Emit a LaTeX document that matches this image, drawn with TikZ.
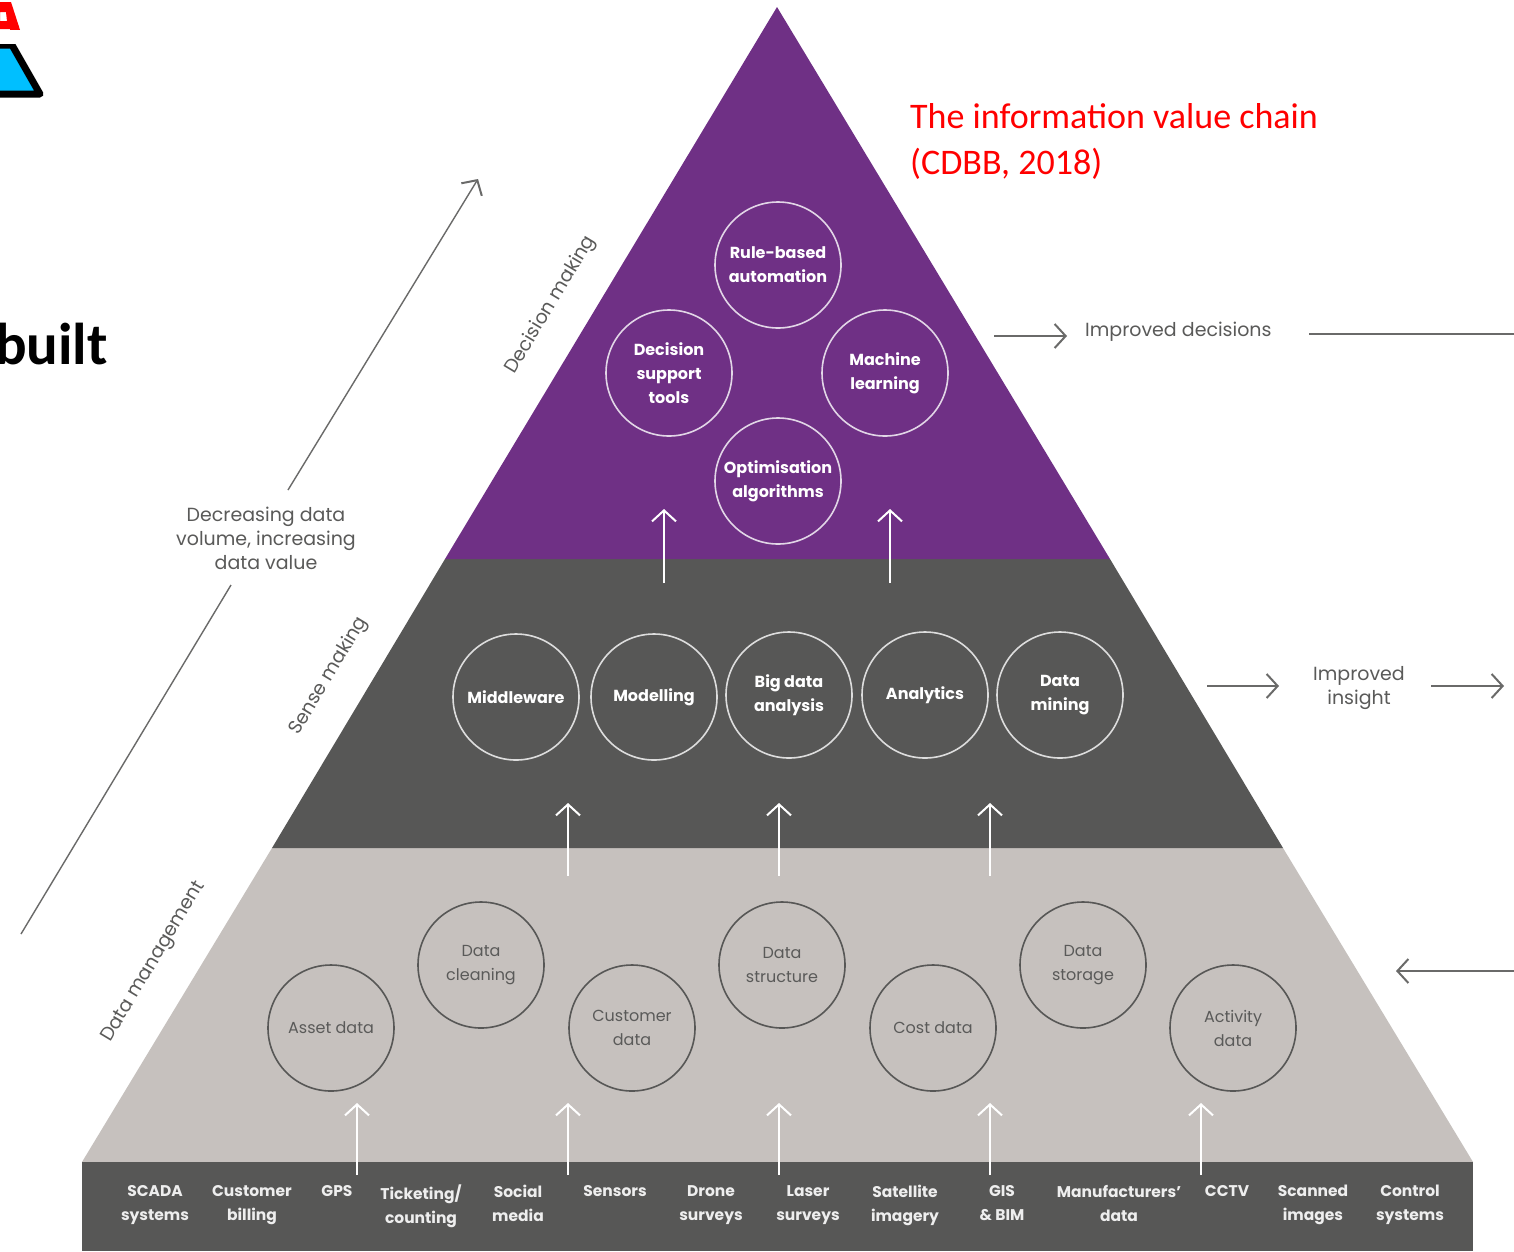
\documentclass[tikz,border=0pt]{standalone}
\usepackage{fontspec}
\setmainfont{Poppins}
\newfontfamily\calfont{Carlito}
\usetikzlibrary{arrows.meta}
\definecolor{purp}{HTML}{6F3085}
\definecolor{darkg}{HTML}{575756}
\definecolor{beige}{HTML}{C6C1BE}
\definecolor{linegray}{HTML}{6A6A69}
\definecolor{textgray}{HTML}{5A5A59}
\definecolor{cyanlogo}{HTML}{00BFFF}
\tikzset{
  x=1pt,y=-1pt,
  barb/.style={-{Straight Barb[length=11pt,width=24pt,line width=2pt]},line width=2pt},
  whitearrow/.style={barb,draw=white},
  grayarrow/.style={barb,draw=linegray},
  thinline/.style={draw=linegray,line width=1.6pt},
  bub/.style={circle,minimum size=126pt,inner sep=0pt,align=center,line width=1.6pt,font=\fontsize{16}{24}\selectfont},
  bubp/.style={bub,draw=white!80!purp,text=white,font=\fontsize{16}{24}\selectfont\bfseries},
  bubd/.style={bub,draw=white!80!darkg,text=white,font=\fontsize{16}{24}\selectfont\bfseries},
  bubb/.style={bub,draw=darkg,text=textgray},
  src/.style={align=center,anchor=north,inner sep=0pt,text=white!90!darkg,font=\fontsize{15.5}{24}\selectfont\bfseries},
  side/.style={text=textgray,align=center,inner sep=0pt,font=\fontsize{19}{24}\selectfont},
  tier/.style={text=textgray,inner sep=0pt,rotate=59,font=\fontsize{19}{24}\selectfont},
  note/.style={text=red,anchor=west,inner sep=0pt,font=\calfont\fontsize{36}{48}\selectfont}
}
\begin{document}
\begin{tikzpicture}
\useasboundingbox (0,0) rectangle (1514,1251);
\clip (0,0) rectangle (1514,1251);
\fill[white] (0,0) rectangle (1514,1251);
% logo fragment
\fill[red,even odd rule] (0,2) -- (11,2) -- (22,36) -- (12,36) -- (10,29) -- (0,29) -- cycle (0,12) -- (6,12) -- (7,21) -- (0,21) -- cycle;
\filldraw[fill=cyanlogo,draw=black,line width=7pt,line join=round] (-20,94) -- (-8,45) -- (12,45) -- (40,94) -- cycle;
\fill[white] (-30,30) rectangle (60,44);
\node[anchor=east,inner sep=0pt,font=\calfont\bfseries\fontsize{59}{60}\selectfont] (builttext) at (108,344) {built};
% pyramid
\fill[beige] (272,848) -- (1283,848) -- (1473,1162) -- (82,1162) -- cycle;
\fill[darkg] (445,559) -- (1110,559) -- (1283,848) -- (272,848) -- cycle;
\fill[purp] (777,7) -- (1110,559) -- (445,559) -- cycle;
\fill[darkg] (82,1162) rectangle (1473,1251);
% decision tier
\node[bubp] (rule) at (778,265) {Rule-based\\automation};
\node[bubp] (dst) at (669,373) {Decision\\support\\tools};
\node[bubp] (ml) at (885,373) {Machine\\learning};
\node[bubp] (opt) at (778,481) {Optimisation\\algorithms};
% sense tier
\node[bubd] (mid) at (516,697) {Middleware};
\node[bubd] (mod) at (654,697) {Modelling};
\node[bubd] (big) at (789,695) {Big data\\analysis};
\node[bubd] (ana) at (925,695) {Analytics};
\node[bubd] (dmin) at (1060,695) {Data\\mining};
% data tier
\node[bubb] (asset) at (331,1028) {Asset data};
\node[bubb] (clean) at (481,965) {Data\\cleaning};
\node[bubb] (cust) at (632,1028) {Customer\\data};
\node[bubb] (struct) at (782,965) {Data\\structure};
\node[bubb] (cost) at (933,1028) {Cost data};
\node[bubb] (stor) at (1083,965) {Data\\storage};
\node[bubb] (act) at (1233,1028) {Activity\\data};
% sources
\node[src] (s1) at (155,1185) {SCADA\\systems};
\node[src] (s2) at (252,1185) {Customer\\billing};
\node[src] (s3) at (337,1185) {GPS};
\node[src] (s4) at (421,1185) {Ticketing/\\counting};
\node[src] (s5) at (518,1185) {Social\\media};
\node[src] (s6) at (615,1185) {Sensors};
\node[src] (s7) at (711,1185) {Drone\\surveys};
\node[src] (s8) at (808,1185) {Laser\\surveys};
\node[src] (s9) at (905,1185) {Satellite\\imagery};
\node[src] (s10) at (1002,1185) {GIS\\\& BIM};
\node[src] (s11) at (1119,1185) {Manufacturers'\\data};
\node[src] (s12) at (1227,1185) {CCTV};
\node[src] (s13) at (1313,1185) {Scanned\\images};
\node[src] (s14) at (1410,1185) {Control\\systems};
% white arrows
\foreach \n/\x/\ya/\yb in {a/664/583/509,b/890/583/509,c/568/876/803,d/779/876/803,e/990/876/803,f/357/1175/1103,g/568/1175/1103,h/779/1175/1103,i/990/1175/1103,j/1201/1175/1103}{
  \coordinate (\n0) at (\x,\ya);
  \coordinate (\n1) at (\x,\yb);
  \draw[whitearrow] (\n0) -- (\n1);
}
% side labels
\node[tier] (tdm) at (551,305) {Decision making};
\node[tier] (tsm) at (329,676) {Sense making};
\node[tier] (tda) at (154,962) {Data management};
\node[side] (dec) at (266,538) {Decreasing data\\volume, increasing\\data value};
\coordinate (upend) at (478,179);
\coordinate (downend) at (21,934);
\draw[barb,draw=linegray,line width=1.4pt] (288,490) -- (upend);
\draw[draw=linegray,line width=1.4pt] (231,585) -- (downend);
% right side
\node[side,anchor=west] (impd) at (1085,332) {Improved decisions};
\node[side] (impi) at (1359,688) {Improved\\insight};
\coordinate (r1) at (994,336);
\coordinate (r2) at (1067,336);
\coordinate (r3) at (1207,686);
\coordinate (r4) at (1279,686);
\coordinate (r5) at (1431,686);
\coordinate (r6) at (1504,686);
\coordinate (r7) at (1309,334);
\coordinate (r8) at (1514,334);
\coordinate (r9) at (1514,971);
\coordinate (r10) at (1396,971);
\draw[grayarrow] (r1) -- (r2);
\draw[grayarrow] (r3) -- (r4);
\draw[grayarrow] (r5) -- (r6);
\draw[thinline] (r7) -- (r8);
\draw[grayarrow] (r9) -- (r10);
% note
\node[note] (n1) at (910,116) {The information value chain};
\node[note] (n2) at (910,164) {(CDBB, 2018)};
\end{tikzpicture}
\end{document}
